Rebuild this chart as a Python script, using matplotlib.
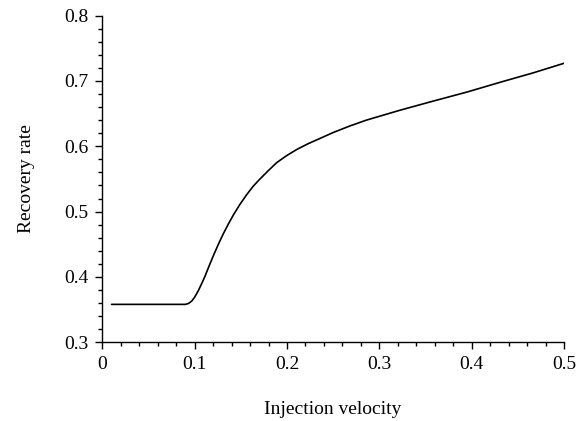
import matplotlib
matplotlib.use("Agg")
import matplotlib.pyplot as plt
from matplotlib.ticker import MultipleLocator

# --- DATA ---
velocity = [0.01, 0.05, 0.0900, 0.0935, 0.0968, 0.1000, 0.1040, 0.1080, 0.1110,
            0.1160, 0.1210, 0.1260, 0.1310, 0.1365, 0.1420, 0.1490, 0.1564,
            0.1635, 0.1708, 0.1800, 0.1889, 0.2000, 0.2105, 0.2230, 0.2358,
            0.2500, 0.2680, 0.2860, 0.3220, 0.3580, 0.3950, 0.4310, 0.4670, 0.5000]
recovery = [0.358, 0.358, 0.358, 0.3595, 0.3630, 0.3690, 0.3790, 0.3910, 0.4004,
            0.4180, 0.4350, 0.4510, 0.4660, 0.4810, 0.4950, 0.5110, 0.5260,
            0.5390, 0.5500, 0.5630, 0.5750, 0.5860, 0.5950, 0.6040, 0.6120,
            0.6210, 0.6310, 0.6400, 0.6550, 0.6690, 0.6830, 0.6980, 0.7125, 0.7270]

plt.rcParams['font.family'] = ['Liberation Serif', 'DejaVu Serif']

fig = plt.figure(figsize=(5.86, 4.21), dpi=100)
ax = fig.add_axes([0.1746, 0.187, 0.7879, 0.776])

ax.plot(velocity, recovery, color='black', linewidth=1.2,
        solid_joinstyle='round', solid_capstyle='round')

ax.set_xlim(0, 0.5)
ax.set_ylim(0.3, 0.8)
ax.set_xticks([0, 0.1, 0.2, 0.3, 0.4, 0.5])
ax.set_xticklabels(['0', '0.1', '0.2', '0.3', '0.4', '0.5'])
ax.xaxis.set_minor_locator(MultipleLocator(0.02))
ax.yaxis.set_major_locator(MultipleLocator(0.1))
ax.yaxis.set_minor_locator(MultipleLocator(0.02))

for side in ['top', 'right']:
    ax.spines[side].set_visible(False)
for side in ['left', 'bottom']:
    ax.spines[side].set_linewidth(1.0)

ax.tick_params(which='major', direction='out', length=5, width=1.0, labelsize=14, pad=5)
ax.tick_params(which='minor', direction='out', length=3, width=1.0)

ax.set_xlabel('Injection velocity', fontsize=14, labelpad=20)
ax.set_ylabel('Recovery rate', fontsize=14, labelpad=21)

plt.savefig('out.png', dpi=100)
